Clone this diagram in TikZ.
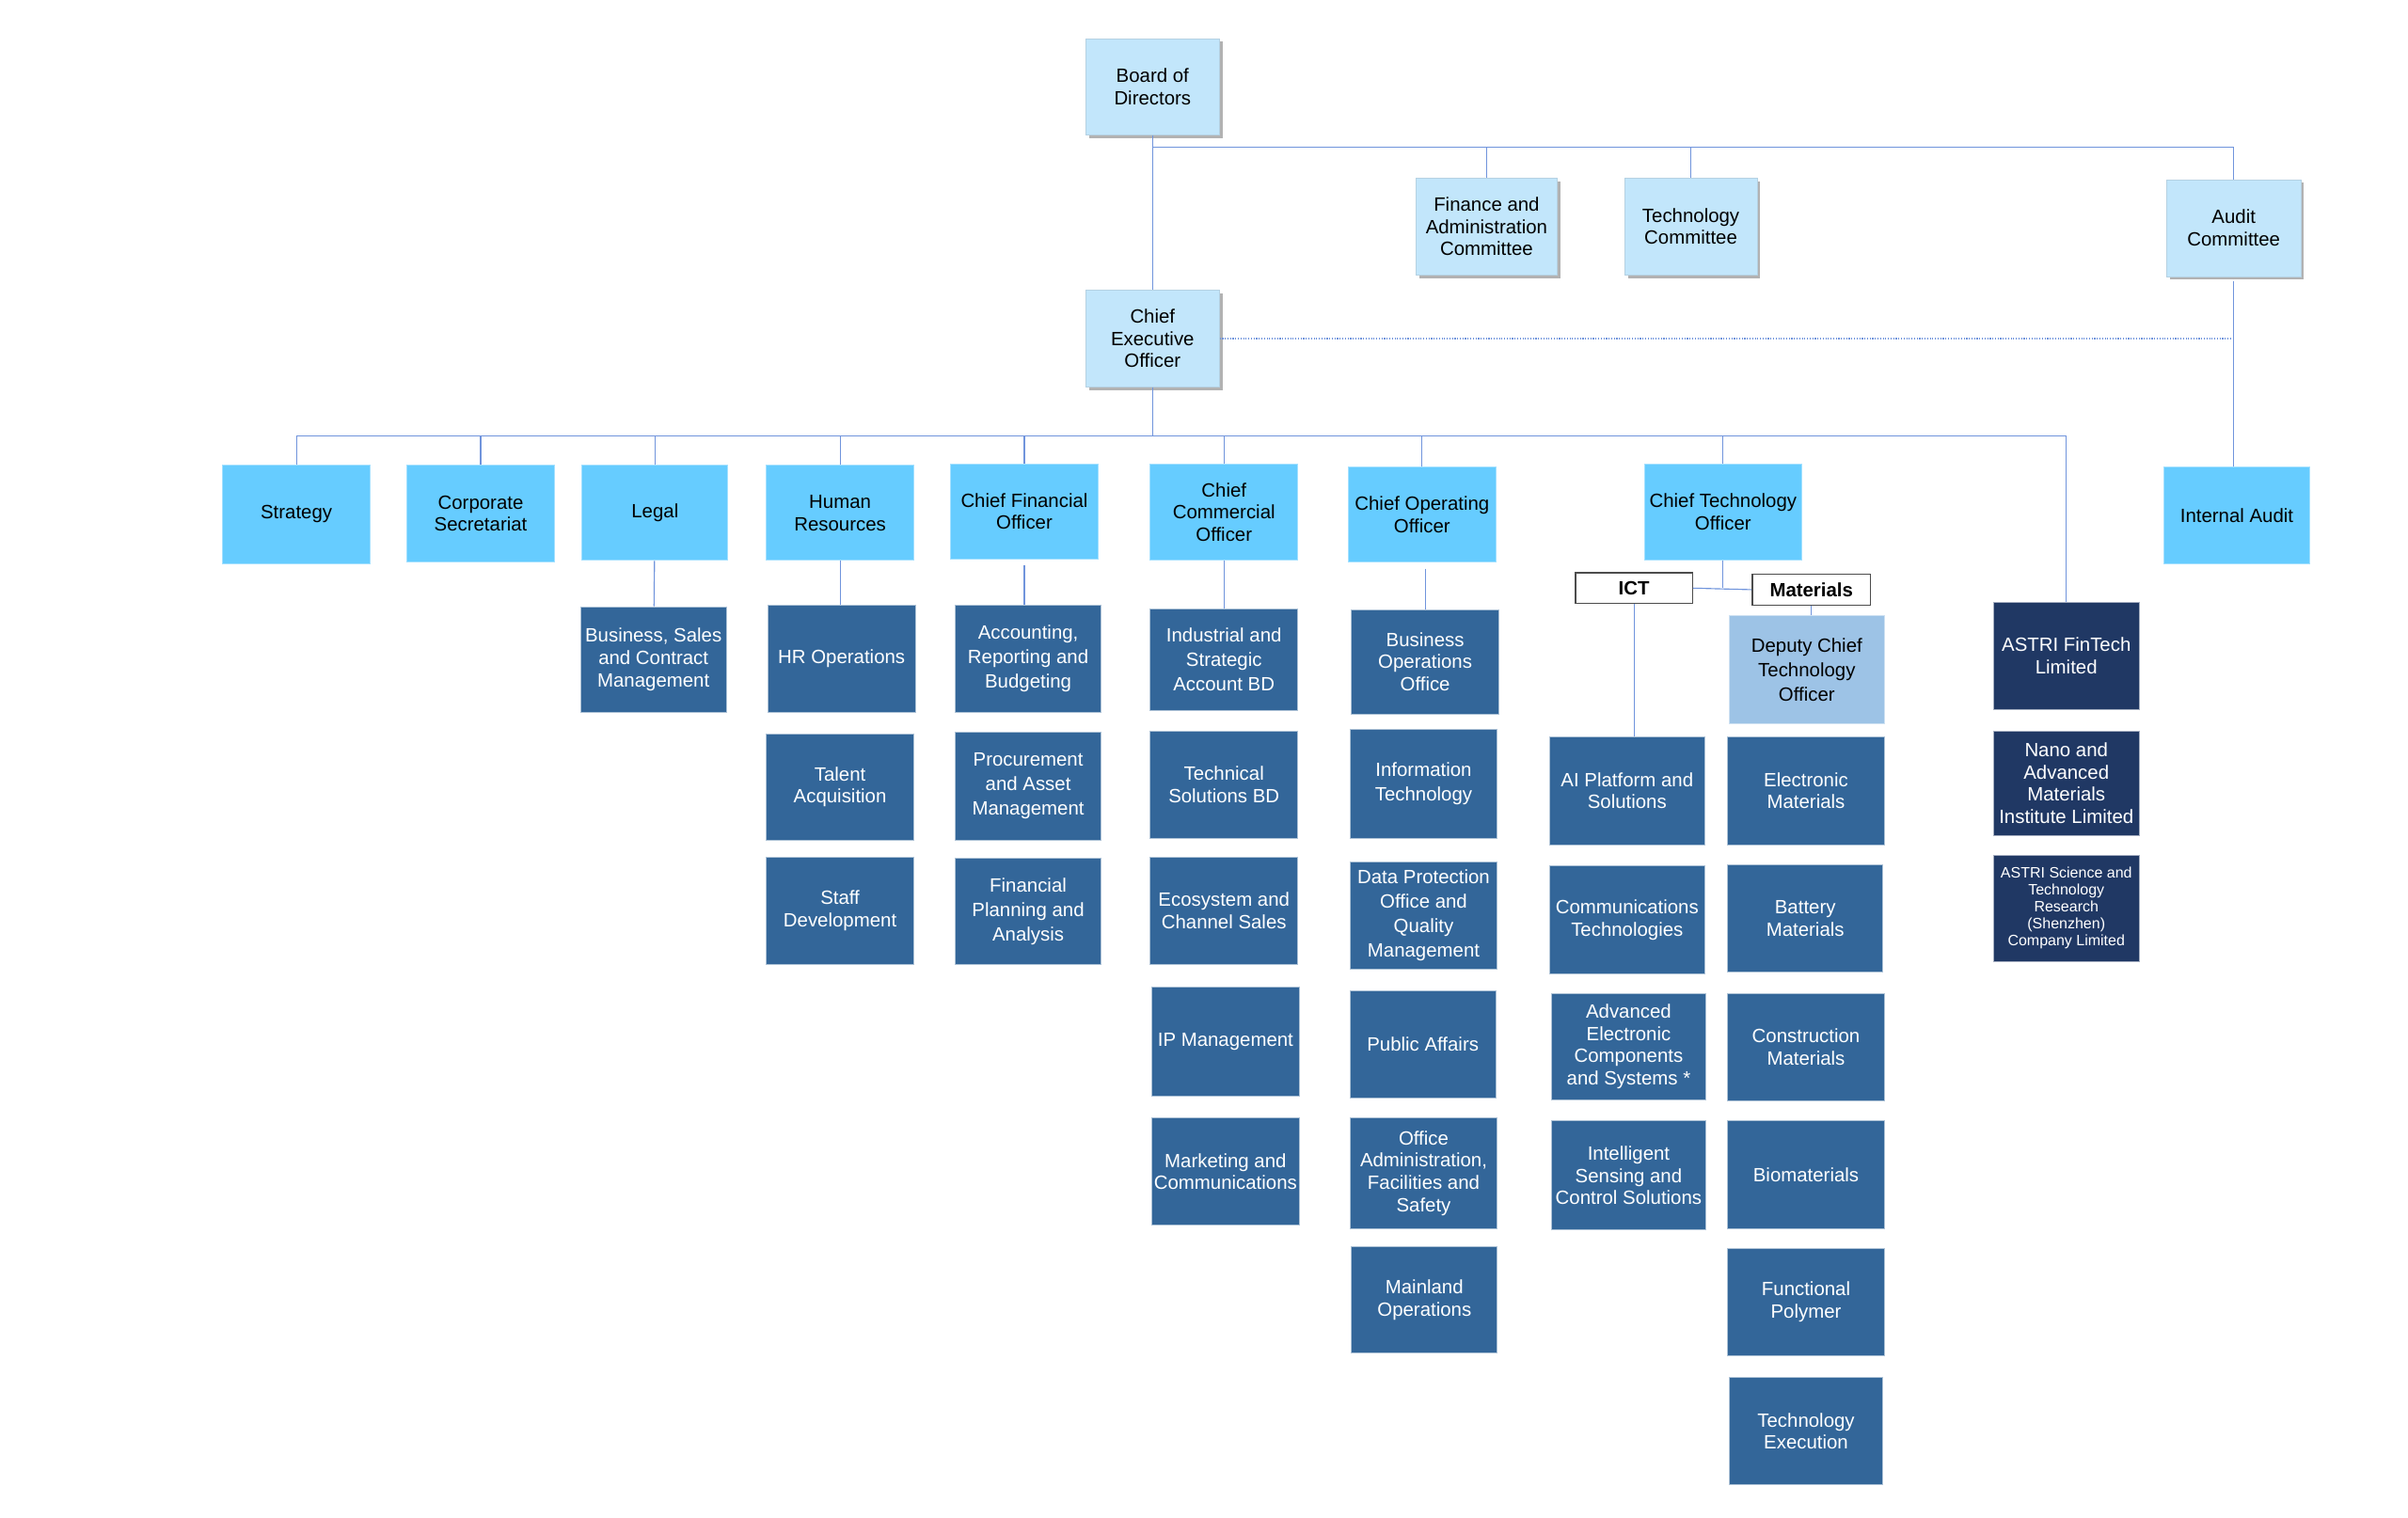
\documentclass[tikz,border=0pt]{standalone}
\usepackage{fontspec}
\setmainfont{Liberation Sans}
\usetikzlibrary{shadows}
\definecolor{topc}{HTML}{C2E6FB}
\definecolor{headc}{HTML}{66CCFF}
\definecolor{deptc}{HTML}{336699}
\definecolor{subc}{HTML}{203864}
\definecolor{depc}{HTML}{9DC3E6}
\definecolor{linec}{HTML}{7094DC}
\tikzset{
  box/.style={rectangle, inner sep=0pt, align=center, font=\fontsize{12.5}{14.5}\selectfont},
  topbox/.style={box, fill=topc, draw=topc!80!gray, line width=0.3pt,
     drop shadow={shadow xshift=2pt, shadow yshift=-2pt, fill=black!30, opacity=1}},
  headbox/.style={box, fill=headc, draw=headc!60!white, line width=0.6pt},
  deptbox/.style={box, fill=deptc, text=white, draw=deptc!40!white, line width=0.5pt},
  subbox/.style={box, fill=subc, text=white, draw=subc!40!white, line width=0.5pt},
  depbox/.style={box, fill=depc, draw=depc!50!white, line width=0.6pt},
  tagbox/.style={box, fill=white, draw=black!70, line width=0.8pt, font=\bfseries\fontsize{12.5}{14.5}\selectfont},
  conn/.style={draw=linec, line width=0.7pt},
  sz/.style 2 args={minimum width=#1pt, minimum height=#2pt}
}
\begin{document}
\begin{tikzpicture}[x=1pt, y=-1pt]
\useasboundingbox (0,0) rectangle (1568,988);
\fill[white] (0,0) rectangle (1568,988);
% top level
\node[topbox, sz={87}{63}] (board) at (750.5,56.5) {Board of\\Directors};
\node[topbox, sz={92}{63}] (fac) at (968,147.5) {Finance and\\Administration\\Committee};
\node[topbox, sz={86}{63}] (tc) at (1101,147.5) {Technology\\Committee};
\node[topbox, sz={87}{63}] (ac) at (1454.5,148.5) {Audit\\Committee};
\node[topbox, sz={87}{63}] (ceo) at (750.5,220.5) {Chief\\Executive\\Officer};
\node[headbox, sz={95}{63}] (ia) at (1456.5,335.5) {Internal Audit};
% heads
\node[headbox, sz={96}{64}] (strategy) at (193,335) {Strategy};
\node[headbox, sz={96}{63}] (corpsec) at (313,334.5) {Corporate\\Secretariat};
\node[headbox, sz={95}{62}] (legal) at (426.5,334) {Legal};
\node[headbox, sz={96}{62}] (hr) at (547,334) {Human\\Resources};
\node[headbox, sz={96}{62}] (cfo) at (667,333) {Chief Financial\\Officer};
\node[headbox, sz={96}{63}] (cco) at (797,333.5) {Chief\\Commercial\\Officer};
\node[headbox, sz={96}{62}] (coo) at (926,335) {Chief Operating\\Officer};
\node[headbox, sz={102}{63}] (cto) at (1122,333.5) {Chief Technology\\Officer};
% subsidiaries
\node[subbox, sz={95}{70}] (fintech) at (1345.5,427) {ASTRI FinTech\\Limited};
\node[subbox, sz={95}{68}] (nano) at (1345.5,510) {Nano and\\Advanced\\Materials\\Institute Limited};
\node[subbox, sz={95}{69}, font=\fontsize{9.8}{11}\selectfont] (sci) at (1345.5,591.5) {ASTRI Science and\\Technology\\Research\\(Shenzhen)\\Company Limited};
% legal
\node[deptbox, sz={95}{69}] (bscm) at (425.5,429.5) {Business, Sales\\and Contract\\Management};
% HR
\node[deptbox, sz={96}{70}] (hrops) at (548,429) {HR Operations};
\node[deptbox, sz={96}{69}] (talent) at (547,512.5) {Talent\\Acquisition};
\node[deptbox, sz={96}{70}] (staff) at (547,593) {Staff\\Development};
% CFO
\node[deptbox, sz={95}{70}, font=\fontsize{12.5}{16}\selectfont] (acct) at (669.5,429) {Accounting,\\Reporting and\\Budgeting};
\node[deptbox, sz={95}{70}, font=\fontsize{12.5}{16}\selectfont] (proc) at (669.5,512) {Procurement\\and Asset\\Management};
\node[deptbox, sz={95}{69}, font=\fontsize{12.5}{16}\selectfont] (fpa) at (669.5,593.5) {Financial\\Planning and\\Analysis};
% CCO
\node[deptbox, sz={96}{66}, font=\fontsize{12.5}{16}\selectfont] (isab) at (797,429.5) {Industrial and\\Strategic\\Account BD};
\node[deptbox, sz={96}{70}] (tsbd) at (797,511) {Technical\\Solutions BD};
\node[deptbox, sz={96}{70}] (eco) at (797,593) {Ecosystem and\\Channel Sales};
\node[deptbox, sz={96}{71}] (ipm) at (798,678.5) {IP Management};
\node[deptbox, sz={96}{70}] (mkt) at (798,763) {Marketing and\\Communications};
% COO
\node[deptbox, sz={96}{68}] (boo) at (928,431) {Business\\Operations\\Office};
\node[deptbox, sz={96}{71}, font=\fontsize{12.5}{16}\selectfont] (it) at (927,510.5) {Information\\Technology};
\node[deptbox, sz={96}{70}, font=\fontsize{12.5}{16}\selectfont] (dpo) at (927,596) {Data Protection\\Office and\\Quality\\Management};
\node[deptbox, sz={95}{70}] (pa) at (926.5,680) {Public Affairs};
\node[deptbox, sz={96}{72}] (oafs) at (927,764) {Office\\Administration,\\Facilities and\\Safety};
\node[deptbox, sz={95}{69}] (mo) at (927.5,846.5) {Mainland\\Operations};
% CTO
\node[tagbox, sz={76}{20}] (ict) at (1064,383) {ICT};
\node[tagbox, sz={77}{20}] (mat) at (1179.5,384) {Materials};
\node[depbox, sz={101}{70}, font=\fontsize{12.5}{16}\selectfont] (dcto) at (1176.5,436) {Deputy Chief\\Technology\\Officer};
\node[deptbox, sz={101}{70}] (ai) at (1059.5,515) {AI Platform and\\Solutions};
\node[deptbox, sz={101}{70}] (comm) at (1059.5,599) {Communications\\Technologies};
\node[deptbox, sz={101}{69}] (aecs) at (1060.5,681.5) {Advanced\\Electronic\\Components\\and Systems *};
\node[deptbox, sz={101}{71}] (iscs) at (1060.5,765.5) {Intelligent\\Sensing and\\Control Solutions};
\node[deptbox, sz={102}{70}] (em) at (1176,515) {Electronic\\Materials};
\node[deptbox, sz={101}{70}] (bm) at (1175.5,598) {Battery\\Materials};
\node[deptbox, sz={102}{70}] (cm) at (1176,682) {Construction\\Materials};
\node[deptbox, sz={102}{70}] (bio) at (1176,765) {Biomaterials};
\node[deptbox, sz={102}{70}] (fp) at (1176,848) {Functional\\Polymer};
\node[deptbox, sz={100}{70}] (te) at (1176,932) {Technology\\Execution};
% bus coordinates
\coordinate (cbusL) at (750.5,96);
\coordinate (cbusR) at (1454.5,96);
\coordinate (hbusL) at (193,284);
\coordinate (hbusR) at (1345.5,284);
% connectors
\draw[conn] (board) -- (ceo);
\draw[conn] (cbusL) -- (cbusR);
\draw[conn] (fac.north) -- (fac.north |- cbusL);
\draw[conn] (tc.north) -- (tc.north |- cbusL);
\draw[conn] (ac.north) -- (ac.north |- cbusL);
\draw[conn, densely dotted] (ceo.east) -- (ceo.east -| ac.south);
\draw[conn] ([yshift=-3pt]ac.south) -- (ac.south |- ia.north);
\draw[conn] (ceo.south) -- (ceo.south |- hbusL);
\draw[conn] (hbusL) -- (hbusR);
\foreach \n in {strategy,corpsec,legal,hr,cfo,cco,coo,cto,fintech}
  \draw[conn] (\n.north) -- (\n.north |- hbusL);
\draw[conn] (legal) -- (bscm);
\draw[conn] (hr.south) -- (hr.south |- hrops.north);
\draw[conn] ([yshift=-4pt]cfo.south) -- (cfo.south |- acct.north);
\draw[conn] (cco) -- (isab);
\draw[conn] ([yshift=-4pt, xshift=2pt]coo.south) -- ([xshift=2pt]coo.south |- boo.north);
\draw[conn] (cto.south) -- (cto.south |- ict.east);
\draw[conn] (ict.east) -- (mat.west);
\draw[conn] (ict.south) -- (ict.south |- ai.north);
\draw[conn] (mat.south) -- (mat.south |- dcto.north);
\end{tikzpicture}
\end{document}
